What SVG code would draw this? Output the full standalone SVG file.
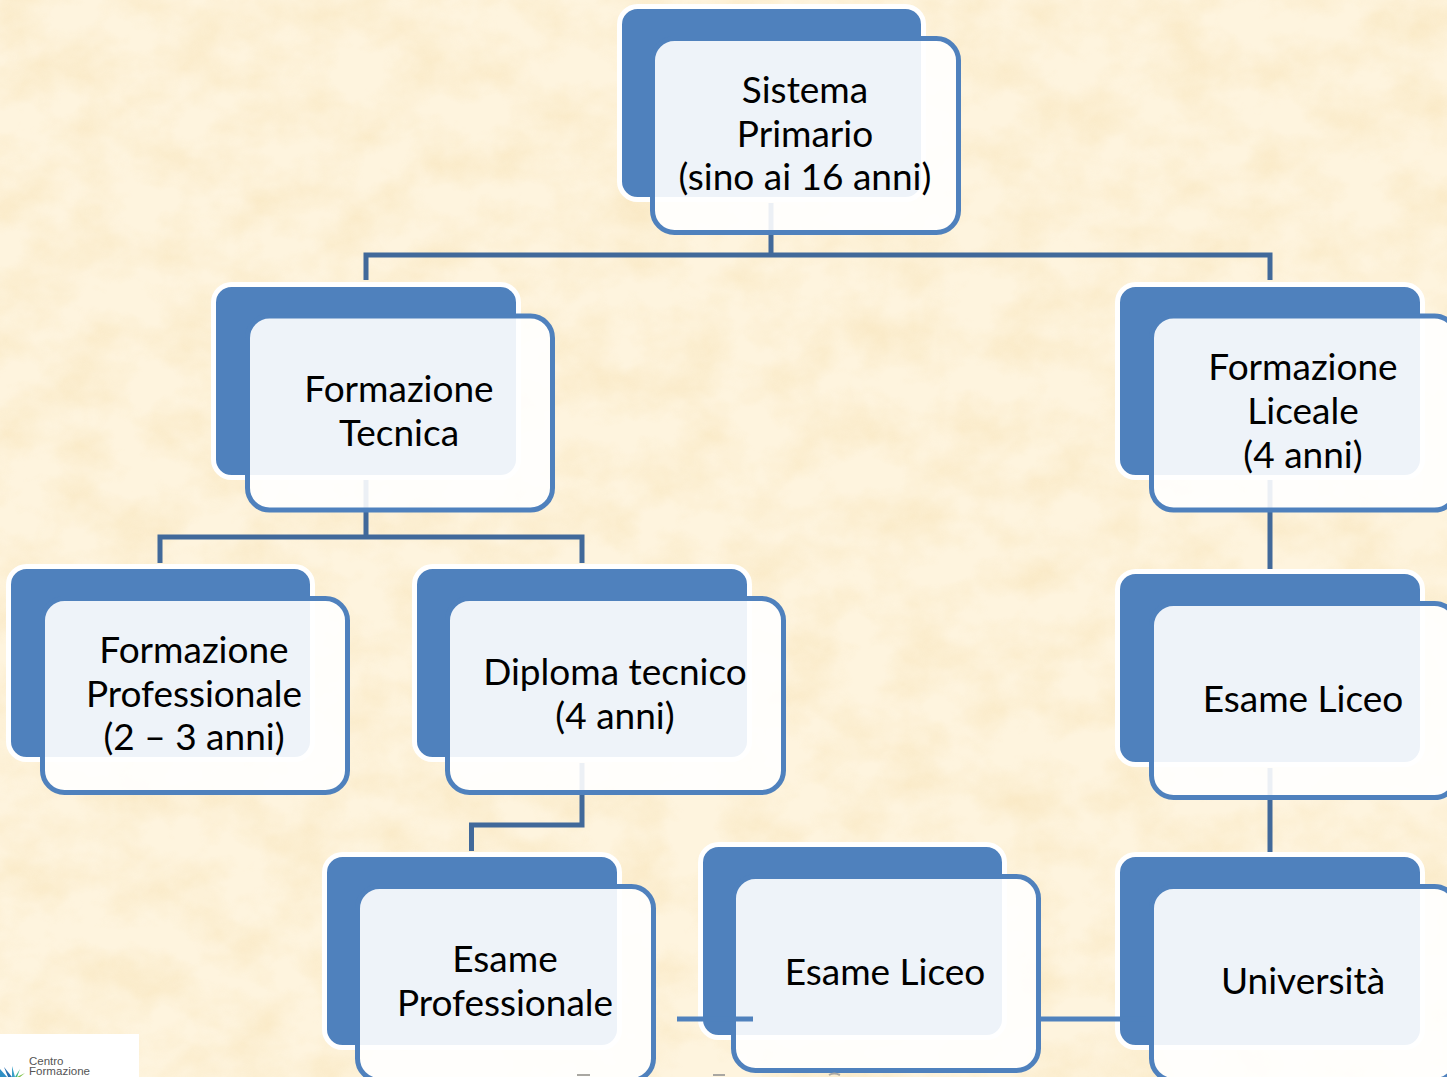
<svg xmlns="http://www.w3.org/2000/svg" width="1447" height="1077" viewBox="0 0 1447 1077">
<style>
.back{fill:#4f81bd;stroke:#fff;stroke-width:5}
.front{fill:#fff;fill-opacity:.9;stroke:#4f81bd;stroke-width:5}
.lbl{font-family:"Lato","Open Sans","Liberation Sans",sans-serif;font-size:37px;fill:#000;text-anchor:middle}
.conn{fill:none;stroke:#41699a;stroke-width:5}
.conn2{fill:none;stroke:#4f81bd;stroke-width:5}
.logo{font-family:"Liberation Sans",sans-serif;font-size:11.500px;fill:#555}
.frag{fill:none;stroke:#a9a7a2;stroke-width:2}
</style>
<defs>
<filter id="tex" x="0" y="0" width="100%" height="100%">
<feTurbulence type="fractalNoise" baseFrequency="0.018 0.022" numOctaves="4" seed="11"/>
<feColorMatrix values="0 0 0 0 .93  0 0 0 0 .76  0 0 0 0 .46  1.6 0 0 0 -.55"/>
</filter>
</defs>
<g id="background">
<rect width="1447" height="1077" fill="#fef4de"/>
<rect width="1447" height="1077" filter="url(#tex)" opacity=".6"/>
</g>
<g id="connectors">
<path class="conn" d="M771 203V255M366 280V255H1270V280"/>
<path class="conn" d="M366 480V537M160 563V537H582V563"/>
<path class="conn" d="M582 763V825H471.500V851"/>
<path class="conn" d="M1270 480V570M1270 768V852"/>
</g>
<g id="node-sistema">
<rect class="back" x="619.500" y="6.500" width="304" height="193" rx="18"/>
<rect class="front" x="652.500" y="38.500" width="306" height="194" rx="22"/>
<text class="lbl" x="805" y="103">Sistema</text><text class="lbl" x="805" y="147">Primario</text><text class="lbl" x="805" y="190">(sino ai 16 anni)</text>
</g>
<g id="node-tecnica">
<rect class="back" x="213.500" y="284.500" width="305" height="193" rx="18"/>
<rect class="front" x="247.500" y="316" width="305" height="194" rx="22"/>
<text class="lbl" x="399" y="402">Formazione</text><text class="lbl" x="399" y="446">Tecnica</text>
</g>
<g id="node-liceale">
<rect class="back" x="1117.500" y="284.500" width="305" height="193" rx="18"/>
<rect class="front" x="1151.500" y="316" width="305" height="194" rx="22"/>
<text class="lbl" x="1303" y="380">Formazione</text><text class="lbl" x="1303" y="424">Liceale</text><text class="lbl" x="1303" y="468">(4 anni)</text>
</g>
<g id="node-professionale">
<rect class="back" x="8.500" y="566.500" width="304" height="193" rx="18"/>
<rect class="front" x="42.500" y="598.500" width="305" height="194" rx="22"/>
<text class="lbl" x="194" y="663">Formazione</text><text class="lbl" x="194" y="707">Professionale</text><text class="lbl" x="194" y="750">(2 – 3 anni)</text>
</g>
<g id="node-diploma">
<rect class="back" x="414.500" y="566.500" width="335" height="193" rx="18"/>
<rect class="front" x="447.500" y="598.500" width="336" height="194" rx="22"/>
<text class="lbl" x="615" y="685">Diploma tecnico</text><text class="lbl" x="615" y="729">(4 anni)</text>
</g>
<g id="node-esame-liceo-right">
<rect class="back" x="1117.500" y="571.500" width="305" height="193" rx="18"/>
<rect class="front" x="1151.500" y="603.500" width="305" height="194" rx="22"/>
<text class="lbl" x="1303" y="712">Esame Liceo</text>
</g>
<g id="node-esame-professionale">
<rect class="back" x="324.500" y="854.500" width="295" height="193" rx="18"/>
<rect class="front" x="357.500" y="886.500" width="296" height="194" rx="22"/>
<text class="lbl" x="505" y="972">Esame</text><text class="lbl" x="505" y="1016">Professionale</text>
</g>
<g id="node-esame-liceo-mid">
<rect class="back" x="700.500" y="844.500" width="304" height="193" rx="18"/>
<rect class="front" x="733.500" y="876.500" width="305" height="194" rx="22"/>
<text class="lbl" x="885" y="985">Esame Liceo</text>
</g>
<g id="node-universita">
<rect class="back" x="1117.500" y="854.500" width="305" height="193" rx="18"/>
<path class="conn2" d="M1040 1019H1146"/>
<rect class="front" x="1151.500" y="886.500" width="305" height="194" rx="22"/>
<text class="lbl" x="1303" y="994">Università</text>
</g>
<g id="connector-overlay"><path class="conn2" d="M677 1019H753"/></g>
<g id="footer-fragments">
<path class="frag" d="M577 1075H590M713 1075H725M829 1075Q834 1072 840 1075"/>
</g>
<g id="logo">
<rect x="0" y="1034" width="139" height="43" fill="#fff"/>
<path d="M0 1069L7 1077H0Z" fill="#2f8fc4"/><path d="M4 1067L12 1077H8Z" fill="#2a6fb0"/><path d="M12 1066L15 1077H12Z" fill="#3aa0c8"/><path d="M20 1069L17 1077H15Z" fill="#3bb58a"/><path d="M25 1073L20 1077H17Z" fill="#7cc142"/>
<text class="logo" x="29" y="1065">Centro</text>
<text class="logo" x="29" y="1074.500" textLength="61" lengthAdjust="spacingAndGlyphs">Formazione</text>
</g>
</svg>
